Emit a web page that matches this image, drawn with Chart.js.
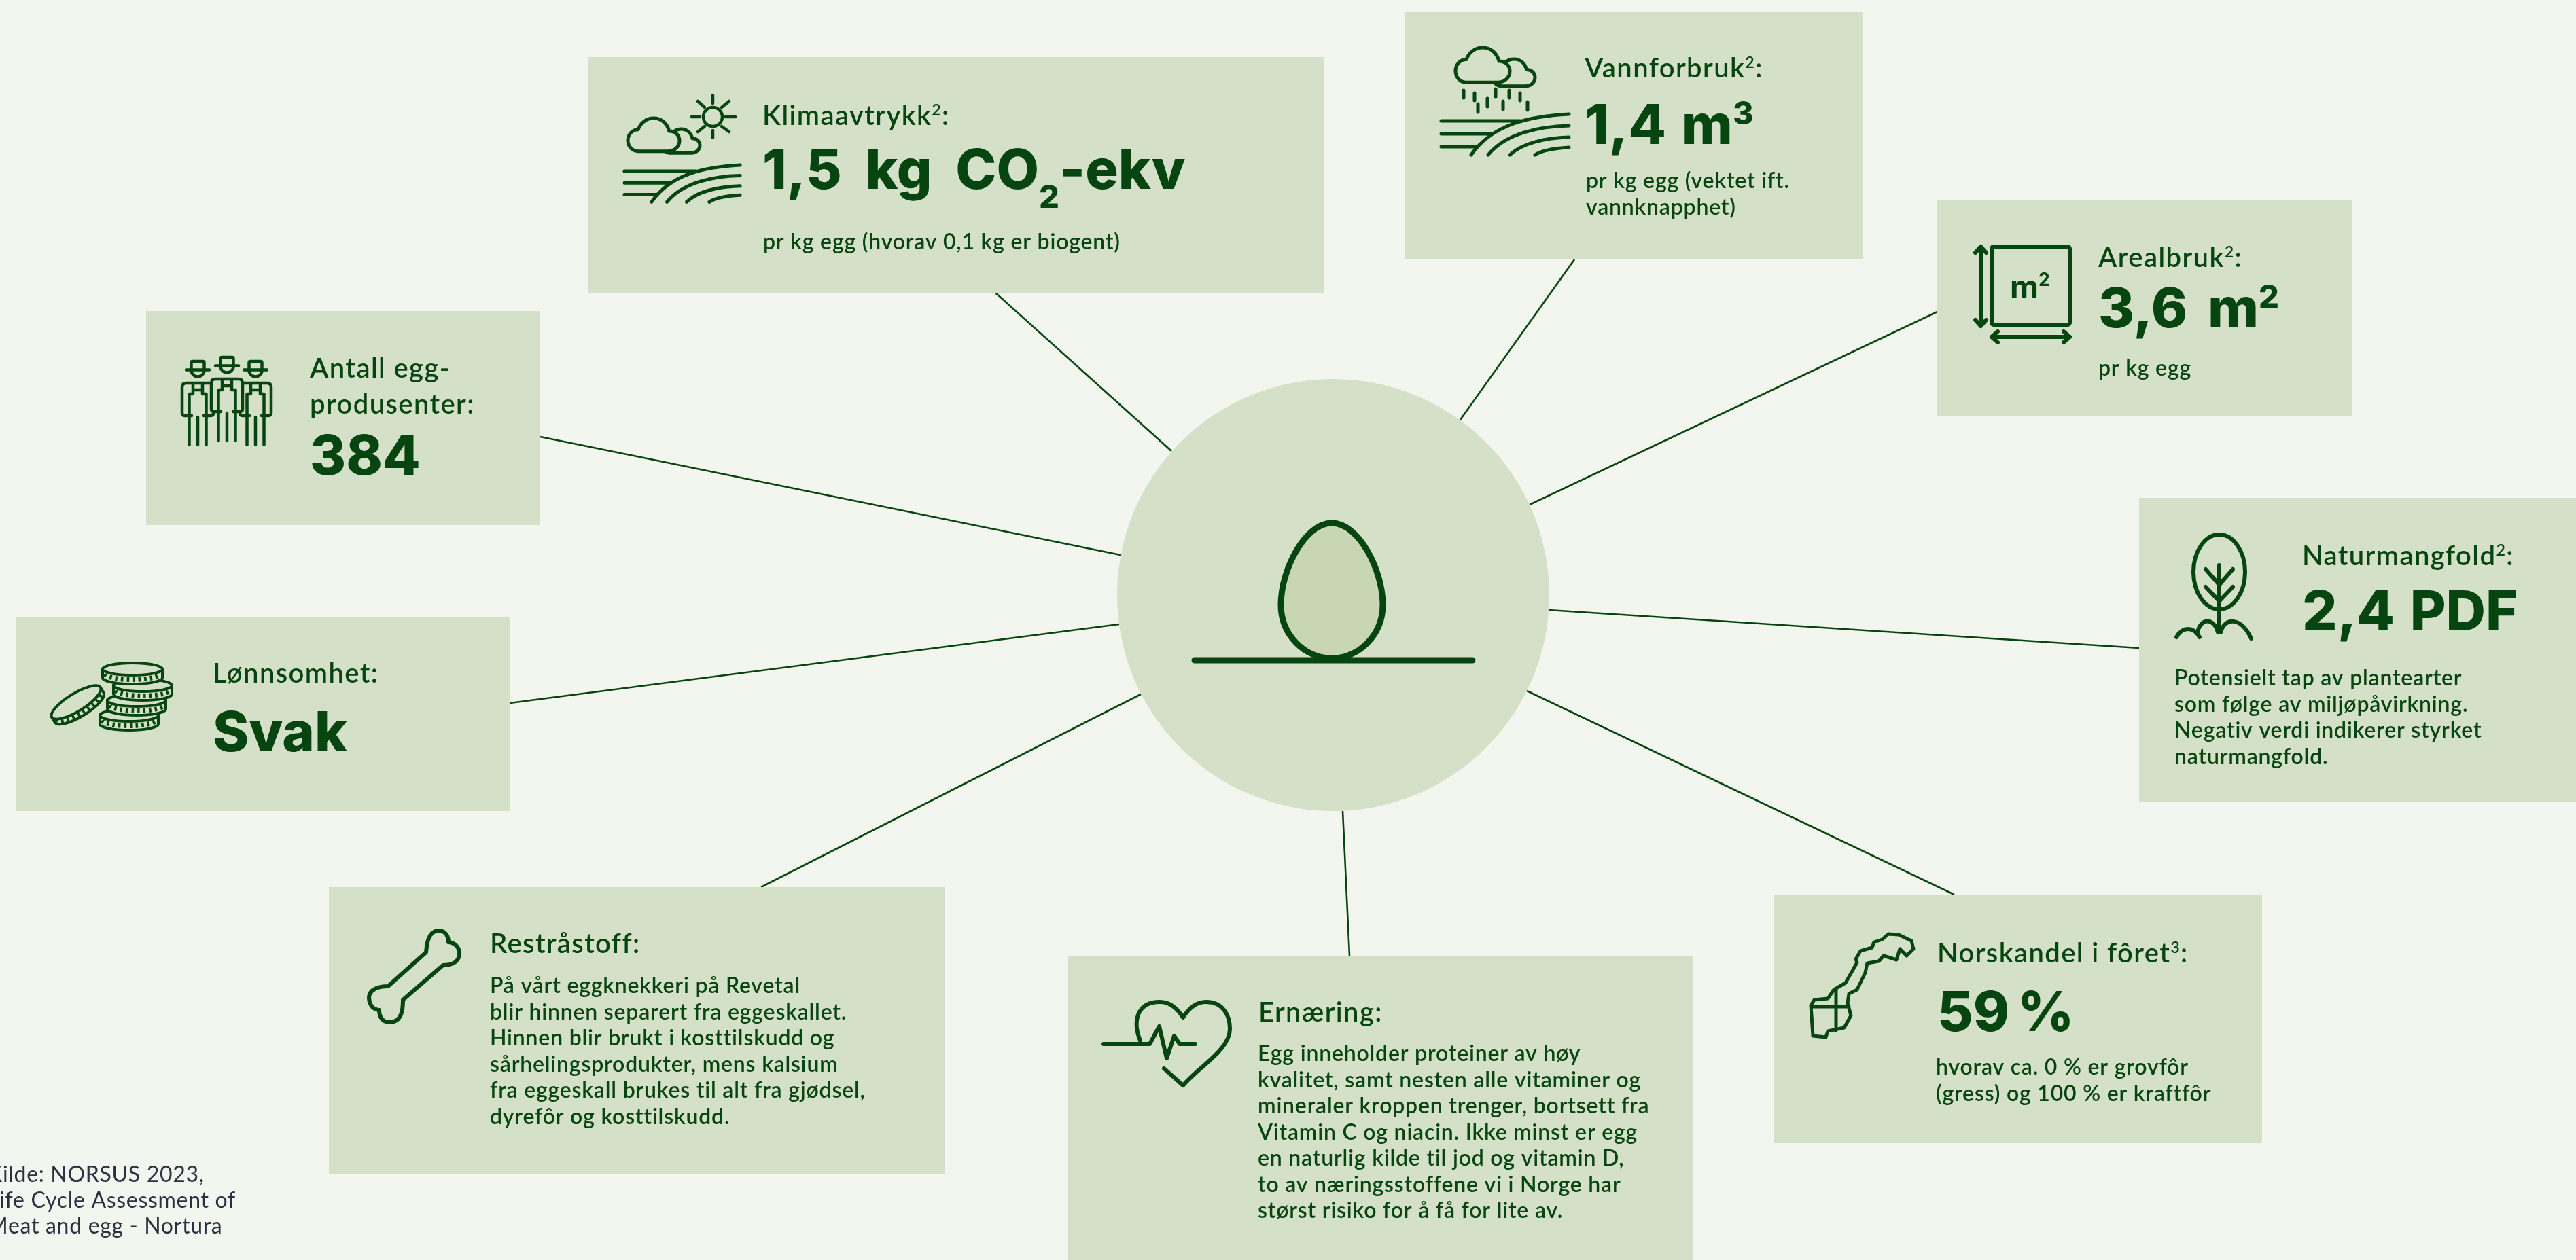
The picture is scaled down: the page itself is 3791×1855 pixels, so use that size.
<!DOCTYPE html>
<html lang="no">
<head>
<meta charset="utf-8">
<title>Egg</title>
<script src="https://cdn.jsdelivr.net/npm/chart.js@4"></script>
<style>
  html, body { margin: 0; padding: 0; background: #f3f6ef; overflow: hidden; }
  canvas { display: block; }
</style>
</head>
<body>
<canvas id="chart" width="3791" height="1855"></canvas>
<script>
/* ---------- DATA ---------- */
const categories = [
    'Klimaavtrykk²:', 'Vannforbruk²:', 'Arealbruk²:', 'Naturmangfold²:', 'Norskandel i fôret³:',
    'Ernæring:', 'Restråstoff:', 'Lønnsomhet:', 'Antall egg-\nprodusenter:'
];
const values = ['1,5 kg CO₂-ekv', '1,4 m³', '3,6 m²', '2,4 PDF', '59 %', '', '', 'Svak', '384'];
const notes = [
    'pr kg egg (hvorav 0,1 kg er biogent)',
    'pr kg egg (vektet ift.\nvannknapphet)',
    'pr kg egg',
    'Potensielt tap av plantearter\nsom følge av miljøpåvirkning.\nNegativ verdi indikerer styrket\nnaturmangfold.',
    'hvorav ca. 0 % er grovfôr\n(gress) og 100 % er kraftfôr',
    'Egg inneholder proteiner av høy\nkvalitet, samt nesten alle vitaminer og\nmineraler kroppen trenger, bortsett fra\nVitamin C og niacin. Ikke minst er egg\nen naturlig kilde til jod og vitamin D,\nto av næringsstoffene vi i Norge har\nstørst risiko for å få for lite av.',
    'På vårt eggknekkeri på Revetal\nblir hinnen separert fra eggeskallet.\nHinnen blir brukt i kosttilskudd og\nsårhelingsprodukter, mens kalsium\nfra eggeskall brukes til alt fra gjødsel,\ndyrefôr og kosttilskudd.',
    '',
    ''
];
const sourceLines = ['Kilde: NORSUS 2023,', 'Life Cycle Assessment of', 'Meat and egg - Nortura'];

// card rectangles, in the same order as categories
const boxLeft   = [866, 2068, 2851, 3148, 2611, 1571, 484, 23, 215];
const boxRight  = [1949, 2741, 3462, 3791, 3329, 2492, 1390, 750, 795];
const boxTop    = [84, 17, 295, 733, 1318, 1407, 1306, 908, 458];
const boxBottom = [431, 382, 613, 1181, 1683, 1855, 1729, 1194, 773];

// spokes from each card towards the egg
const spokeFromX = [1465, 2317, 2851, 3148, 2876, 1986, 1120, 750, 795];
const spokeFromY = [431, 382, 459, 954, 1317, 1407, 1306, 1035, 643];
const spokeToX   = [1724, 2149, 2251, 2279, 2247, 1976, 1679, 1647, 1649];
const spokeToY   = [664, 618, 743, 898, 1017, 1194, 1022, 919, 817];

const hub = { x: 1962, y: 876 };

/* ---------- LOOK ---------- */
const GREEN = '#06450f';
const BOX   = '#d5e0c8';
const EGG   = '#c8d6b3';

// text anchor per card: x, first title baseline, value baseline, value word gap, note x, first note baseline
const cardText = [
    { x: 1122, title: 184, value: 278, word: 17, noteX: 1123, note: 367 },
    { x: 2332, title: 114, value: 212, word: 5, noteX: 2334, note: 277 },
    { x: 3088, title: 393, value: 482, word: 12, noteX: 3088, note: 553 },
    { x: 3388, title: 832, value: 928, word: 5, noteX: 3200, note: 1009 },
    { x: 2851, title: 1417, value: 1518, word: -6, noteX: 2849, note: 1582 },
    { x: 1852, title: 1504, value: 0, word: 0, noteX: 1851, note: 1562 },
    { x: 721, title: 1403, value: 0, word: 0, noteX: 721, note: 1462 },
    { x: 313, title: 1005, value: 1106, word: 0, noteX: 0, note: 0 },
    { x: 456, title: 556, value: 699, word: 0, noteX: 0, note: 0 }
];
const TITLE_FONT = { family: 'Lato', weight: 600, size: 40, spacing: 1.4, word: 0, lead: 53 };
const VALUE_FONT = { family: 'Inter', weight: 800, size: 81, spacing: 0, word: 12, lead: 0 };
const NOTE_FONT  = { family: 'Lato', weight: 600, size: 32, spacing: 0.8, word: 0, lead: 38.5 };
const UNIT_FONT  = { family: 'Inter', weight: 700, size: 46, spacing: 0, word: 0, lead: 0 };
const SOURCE_FONT = { family: 'Lato', weight: 400, size: 32, spacing: 0.7, word: 0, lead: 38 };

/* ---------- TEXT HELPERS ---------- */
const SMALL = { '²': ['2', -0.36], '³': ['3', -0.36], '₂': ['2', 0.35] };

function drawRuns(ctx, str, x, y, st) {
    let cx = x, buf = '';
    const setFont = size => {
        ctx.font = st.weight + ' ' + size + 'px "' + st.family + '"';
        ctx.letterSpacing = st.spacing + 'px';
        ctx.wordSpacing = st.word + 'px';
    };
    const flush = () => {
        if (!buf) return;
        setFont(st.size);
        ctx.fillText(buf, cx, y);
        cx += ctx.measureText(buf).width;
        buf = '';
    };
    for (const ch of str) {
        if (SMALL[ch]) {
            flush();
            setFont(st.size * 0.58);
            ctx.fillText(SMALL[ch][0], cx, y + SMALL[ch][1] * st.size);
            cx += ctx.measureText(SMALL[ch][0]).width;
        } else buf += ch;
    }
    flush();
}

function drawBlock(ctx, str, x, y, st, sx, sy) {
    str.split('\n').forEach((line, i) => {
        drawRuns(ctx, line, sx.getPixelForValue(x), sy.getPixelForValue(y + i * st.lead), st);
    });
}

/* ---------- ICONS ---------- */
const FIELD = 'M0 10H116M0 29H76M0 48H52M188 0C130 3 75 15 44 60M188 17C145 18 95 28 69 60M188 34C155 35 120 42 101 60M188 49C170 50 150 52 138 60';
const CLOUD = 'M20 64H78C90 64 100 55 100 44C100 33 92 25 80 25C76 10 65 0 50 0C35 0 24 10 20 22C8 22 0 32 0 43C0 55 9 64 20 64Z';
const RAIN = 'M2154 133v11M2170 137v11M2201 131v12M2221 133v11M2237 137v11M2175 153v12M2189 145v12M2212 149v12M2248 150v12';
const SUN = 'M1049 140v12M1049 192v11M1018 172h12M1068 172h14M1027 149l10 9M1073 149l-11 9M1037 186l-10 8M1062 186l11 8';
const TREE = 'M3266 832V931M3246 838L3266 861L3286 838M3246 864L3266 885L3286 864M3203 938C3212 922 3228 922 3237 938M3234 931C3238 910 3258 908 3264 931M3268 931C3274 908 3298 908 3313 940';
const SQUARE_ARROWS = 'M2915 363V480M2907 372L2915 363L2923 372M2907 471L2915 480L2923 471M2931 496H3046M2940 488L2931 496L2940 504M3037 488L3046 496L3037 504';
const PERSON = 'M-17 12.5H17M-9.5 12.5V2Q-9.5 0-7.5 0H7.5Q9.5 0 9.5 2V12.5M-9.5 15A10 11 0 0 0 9.5 15M-9 80H-19Q-23 80-23 76V38Q-23 32-17 32H17Q23 32 23 38V76Q23 80 19 80H9M-12.5 123V48H-7V33M12.5 123V48H7V33M-7 42H7M0 123V82';
const BONE = 'M571 1452L627 1402C628 1390 630 1371 645 1370C657 1370 660 1380 660 1387C672 1388 677 1398 676 1405C675 1418 662 1421 652 1421L593 1472C593 1485 592 1505 573 1505C563 1505 558 1497 558 1487C546 1486 543 1475 543 1468C544 1456 558 1452 571 1452Z';
const HEART = 'M1678 1532C1667 1505 1672 1475 1707 1475C1722 1475 1733 1485 1741 1498C1749 1485 1760 1475 1775 1475C1800 1475 1810 1495 1810 1515C1810 1545 1765 1570 1741 1598L1713 1573M1624 1537H1692L1706 1511L1717 1558L1728 1525L1736 1537H1759';
const NORWAY = 'M2668 1525L2665 1480L2670 1472L2690 1470L2699 1457L2716 1447L2733 1417L2731 1412L2738 1400L2755 1395L2758 1387L2770 1383L2779 1375L2794 1376L2813 1385L2816 1397L2806 1407L2796 1397L2791 1413L2772 1407L2765 1415L2748 1418L2745 1432L2733 1457L2721 1463L2719 1477L2724 1495L2714 1513L2690 1518L2687 1527ZM2702 1457V1517M2665 1482H2721';
const EGG_SHAPE = 'M1960 770C1920 770 1885 840 1885 890C1885 935 1920 969 1960 969C2000 969 2035 935 2035 890C2035 840 2000 770 1960 770Z';

function strokePath(ctx, d, lw, ox, oy, s, fill) {
    ctx.save();
    ctx.translate(ox || 0, oy || 0);
    ctx.scale(s || 1, s || 1);
    ctx.lineWidth = lw / (s || 1);
    const p = new Path2D(d);
    if (fill) { ctx.fillStyle = fill; ctx.fill(p); }
    ctx.stroke(p);
    ctx.restore();
}

function drawCoin(ctx, cx, cy, rx, ry, depth, rot) {
    ctx.save();
    ctx.translate(cx, cy);
    ctx.rotate(rot || 0);
    ctx.lineWidth = 4;
    // rim
    ctx.beginPath();
    ctx.moveTo(-rx, 0);
    ctx.lineTo(-rx, depth);
    ctx.ellipse(0, depth, rx, ry, 0, Math.PI, 0, true);
    ctx.lineTo(rx, 0);
    ctx.closePath();
    ctx.fillStyle = BOX;
    ctx.fill();
    ctx.stroke();
    // milled edge
    ctx.beginPath();
    ctx.ellipse(0, depth * 0.5, rx - 3, ry, 0, Math.PI - 0.1, 0.1, true);
    ctx.lineCap = 'butt';
    ctx.setLineDash([3.5, 5]);
    ctx.lineWidth = 7;
    ctx.stroke();
    ctx.setLineDash([]);
    // top face
    ctx.lineWidth = 4;
    ctx.beginPath();
    ctx.ellipse(0, 0, rx, ry, 0, 0, Math.PI * 2);
    ctx.fill();
    ctx.stroke();
    ctx.restore();
}

function drawIcons(ctx) {
    ctx.save();
    ctx.strokeStyle = GREEN;
    ctx.lineCap = 'round';
    ctx.lineJoin = 'round';

    // egg on the ground line
    strokePath(ctx, EGG_SHAPE, 9, 0, 0, 1, EGG);
    strokePath(ctx, 'M1758 972H2167', 9);

    // klimaavtrykk
    strokePath(ctx, FIELD, 5, 919, 243, 0.905);
    strokePath(ctx, CLOUD, 5, 975, 190, 0.55);
    strokePath(ctx, CLOUD, 5, 924, 174, 0.76, BOX);
    strokePath(ctx, SUN, 4.5);
    ctx.lineWidth = 4.5;
    ctx.beginPath();
    ctx.ellipse(1049, 172, 14, 14, 0, 0, Math.PI * 2);
    ctx.stroke();

    // vannforbruk
    strokePath(ctx, FIELD, 5, 2121, 168, 1);
    strokePath(ctx, CLOUD, 5, 2197, 87, 0.62);
    strokePath(ctx, CLOUD, 5, 2142, 70, 0.8, BOX);
    strokePath(ctx, RAIN, 5);

    // arealbruk
    ctx.lineWidth = 6;
    ctx.beginPath();
    ctx.roundRect(2931, 363, 115, 115, 3);
    ctx.stroke();
    strokePath(ctx, SQUARE_ARROWS, 6);

    // naturmangfold
    ctx.lineWidth = 6;
    ctx.beginPath();
    ctx.ellipse(3266, 842, 38, 55, 0, 0, Math.PI * 2);
    ctx.stroke();
    strokePath(ctx, TREE, 6);

    // norskandel, ernaering, reststoff
    strokePath(ctx, NORWAY, 5);
    strokePath(ctx, HEART, 6);
    strokePath(ctx, BONE, 6);

    // lonnsomhet
    drawCoin(ctx, 190, 1053, 43, 9, 13);
    drawCoin(ctx, 201, 1031, 43, 9, 13);
    drawCoin(ctx, 210, 1009, 43, 9, 13);
    drawCoin(ctx, 195, 985, 44, 9, 13);
    drawCoin(ctx, 112, 1034, 42, 13, 9, -0.55);

    // antall produsenter
    strokePath(ctx, PERSON, 4.5, 291, 532);
    strokePath(ctx, PERSON, 4.5, 376, 532);
    ctx.fillStyle = BOX;
    ctx.beginPath();
    ctx.roundRect(309, 558, 50, 50, 6);
    ctx.fill();
    strokePath(ctx, PERSON, 4.5, 334, 526);
    ctx.restore();
}

/* ---------- CHART ---------- */
const infographic = {
    id: 'infographic',
    afterDatasetsDraw(chart) {
        const { ctx, scales: { x, y } } = chart;
        drawIcons(ctx);

        ctx.save();
        ctx.fillStyle = GREEN;
        ctx.textBaseline = 'alphabetic';
        categories.forEach((cat, i) => {
            const t = cardText[i];
            drawBlock(ctx, cat, t.x, t.title, TITLE_FONT, x, y);
            if (values[i]) drawBlock(ctx, values[i], t.x, t.value, Object.assign({}, VALUE_FONT, { word: t.word }), x, y);
            if (notes[i]) drawBlock(ctx, notes[i], t.noteX, t.note, NOTE_FONT, x, y);
        });
        // the unit inside the square
        drawBlock(ctx, 'm²', 2958, 438, UNIT_FONT, x, y);
        // source, cut by the left edge as in the original
        ctx.fillStyle = '#2b3040';
        sourceLines.forEach((line, i) => {
            drawRuns(ctx, line, x.getPixelForValue(-18), y.getPixelForValue(1740 + i * SOURCE_FONT.lead), SOURCE_FONT);
        });
        ctx.restore();
    }
};

const datasets = [];
// boxes and hub on top of the spokes
categories.forEach((cat, i) => {
    datasets.push({
        label: cat,
        order: 1,
        data: [
            { x: boxLeft[i], y: boxTop[i] }, { x: boxRight[i], y: boxTop[i] },
            { x: boxRight[i], y: boxBottom[i] }, { x: boxLeft[i], y: boxBottom[i] },
            { x: boxLeft[i], y: boxTop[i] }
        ],
        showLine: true, fill: 'shape', backgroundColor: BOX,
        borderWidth: 0, borderColor: BOX, pointRadius: 0, tension: 0
    });
    datasets.push({
        label: cat + ' linje',
        order: 3,
        data: [{ x: spokeFromX[i], y: spokeFromY[i] }, { x: spokeToX[i], y: spokeToY[i] }],
        showLine: true, fill: false, borderColor: GREEN, borderWidth: 2.6, pointRadius: 0
    });
});
datasets.push({
    label: 'Egg',
    order: 0,
    data: [hub],
    pointRadius: 318, pointHoverRadius: 318,
    pointBackgroundColor: BOX, pointBorderWidth: 0
});

new Chart(document.getElementById('chart'), {
    type: 'scatter',
    data: { datasets },
    options: {
        responsive: false,
        animation: false,
        devicePixelRatio: 1,
        layout: { padding: 0, autoPadding: false },
        events: [],
        plugins: { legend: { display: false }, tooltip: { enabled: false } },
        scales: {
            x: { type: 'linear', min: 0, max: 3791, display: false },
            y: { type: 'linear', min: 0, max: 1855, reverse: true, display: false }
        }
    },
    plugins: [infographic]
});
</script>
</body>
</html>
